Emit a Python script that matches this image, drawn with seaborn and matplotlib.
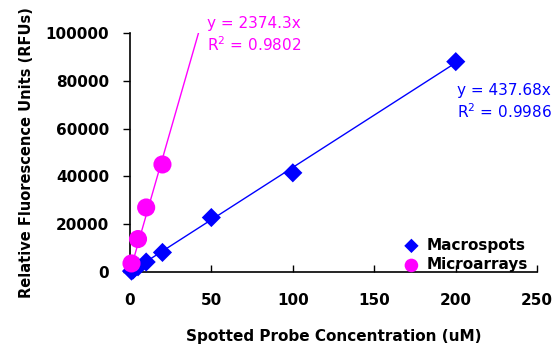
import numpy as np
import pandas as pd
import matplotlib
matplotlib.use("Agg")
import matplotlib.pyplot as plt
import seaborn as sns

# data
macro_x = [1, 2, 5, 10, 20, 50, 100, 200]
macro_y = [400, 900, 2200, 4200, 8200, 22800, 41500, 88000]
micro_x = [1, 5, 10, 20]
micro_y = [3600, 13800, 27000, 45000]
macro_slope, macro_r2 = 437.68, 0.9986
micro_slope, micro_r2 = 2374.3, 0.9802
x_ticks = [0, 50, 100, 150, 200, 250]
y_ticks = [0, 20000, 40000, 60000, 80000, 100000]

blue = "#0000FF"
magenta = "#FF00FF"

sns.set_style("white")
plt.rcParams["font.family"] = ["DejaVu Sans"]
plt.rcParams["text.color"] = "black"

fig = plt.figure(figsize=(5.55, 3.47), dpi=100)
ax = fig.add_axes([0.234, 0.216, 0.734, 0.689])

macro = pd.DataFrame({"x": macro_x, "y": macro_y})
micro = pd.DataFrame({"x": micro_x, "y": micro_y})

# trendlines through origin
tx_macro = np.array([0, max(macro_x)])
tx_micro = np.array([0, 45])
sns.lineplot(x=tx_macro, y=macro_slope * tx_macro, color=blue, lw=1.0, ax=ax)
sns.lineplot(x=tx_micro, y=micro_slope * tx_micro, color=magenta, lw=1.0, ax=ax)

sns.scatterplot(data=macro, x="x", y="y", marker="D", s=95, color=blue,
                edgecolor="none", label="Macrospots", ax=ax, zorder=3, clip_on=False)
sns.scatterplot(data=micro, x="x", y="y", marker="o", s=170, color=magenta,
                edgecolor="none", label="Microarrays", ax=ax, zorder=3, clip_on=False)

ax.set_xlim(0, 250)
ax.set_ylim(0, 100000)
ax.set_xticks(x_ticks)
ax.set_yticks(y_ticks)
ax.set_xticklabels([str(t) for t in x_ticks], fontweight="bold", fontsize=11, color="black")
ax.set_yticklabels([str(t) for t in y_ticks], fontweight="bold", fontsize=11, color="black")
ax.tick_params(axis="x", direction="in", length=5, width=1, color="black", pad=15)
ax.tick_params(axis="y", direction="out", length=5, width=1, color="black", pad=10)
ax.tick_params(bottom=True, left=True)

for side in ["top", "right"]:
    ax.spines[side].set_visible(False)
for side in ["left", "bottom"]:
    ax.spines[side].set_color("black")
    ax.spines[side].set_linewidth(1.2)

ax.set_xlabel("Spotted Probe Concentration (uM)", fontweight="bold", fontsize=11,
              labelpad=15, color="black")
ax.set_ylabel("Relative Fluorescence Units (RFUs)", fontweight="bold", fontsize=10.5,
              labelpad=8, color="black")

ax.text(0.189, 1.07, f"y = {micro_slope}x\nR$^2$ = {micro_r2}", transform=ax.transAxes,
        color=magenta, fontsize=11, va="top", ha="left", linespacing=1.25)
ax.text(0.803, 0.79, f"y = {macro_slope}x\nR$^2$ = {macro_r2}", transform=ax.transAxes,
        color=blue, fontsize=11, va="top", ha="left", linespacing=1.25)

leg = ax.legend(loc="lower right", bbox_to_anchor=(1.0, -0.04), frameon=False,
                handletextpad=0.0, borderaxespad=0.2, labelspacing=0.3,
                markerscale=0.75, prop={"weight": "bold", "size": 11})

fig.savefig("out.png", dpi=100)
